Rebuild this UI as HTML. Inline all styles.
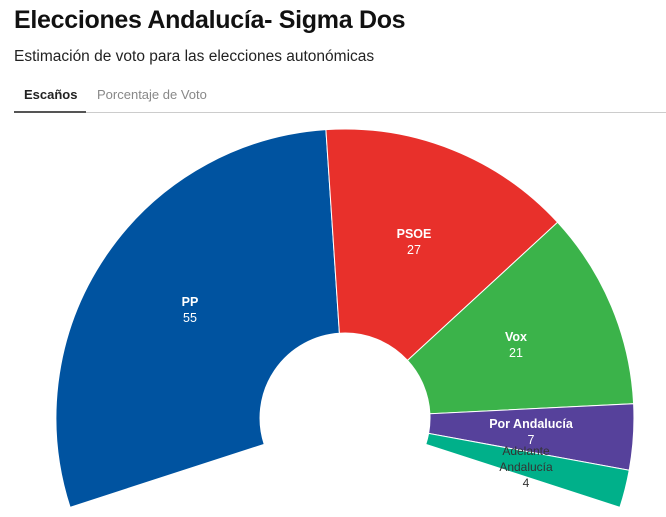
<!DOCTYPE html>
<html><head><meta charset="utf-8">
<style>
body{margin:0;background:#fff;width:666px;height:517px;overflow:hidden;font-family:"Liberation Sans",sans-serif;}
h1{position:absolute;left:14px;top:6px;margin:0;font-size:25px;font-weight:bold;color:#111;letter-spacing:-0.3px}
.sub{position:absolute;left:14px;top:48px;font-size:15.5px;color:#222}
.tab1{position:absolute;left:24px;top:87px;font-size:13px;font-weight:bold;color:#222}
.tab2{position:absolute;left:97px;top:87px;font-size:13px;color:#888}
.line{position:absolute;left:14px;top:112px;width:652px;height:1px;background:#ccc}
.uline{position:absolute;left:14px;top:111px;width:72px;height:2px;background:#555}
svg{position:absolute;left:0;top:0}
</style></head><body>
<h1>Elecciones Andalucía- Sigma Dos</h1>
<div class="sub">Estimación de voto para las elecciones autonómicas</div>
<div class="tab1">Escaños</div><div class="tab2">Porcentaje de Voto</div>
<div class="line"></div><div class="uline"></div>
<svg id="s" width="666" height="517" xmlns="http://www.w3.org/2000/svg"></svg>
<script>
var cx=345,cy=418,R=289,r=85,d=216/114;
var data=[["PP",55,"#0053a0"],["PSOE",27,"#e8302b"],["Vox",21,"#3bb34a"],["Por Andalucía",7,"#56419b"],["Adelante",4,"#00b08a"]];
var a=-108,out="";
function p(rad,ang){var t=ang*Math.PI/180;return (cx+rad*Math.sin(t)).toFixed(1)+","+(cy-rad*Math.cos(t)).toFixed(1);}
data.forEach(function(x){var b=a+x[1]*d;var lg=(b-a)>180?1:0;
out+='<path d="M'+p(R,a)+' A'+R+','+R+' 0 '+lg+' 1 '+p(R,b)+' L'+p(r,b)+' A'+r+','+r+' 0 '+lg+' 0 '+p(r,a)+' Z" fill="'+x[2]+'" stroke="#fff" stroke-width="1"/>';a=b;});
var L=[["PP","55",190,306],["PSOE","27",414,238],["Vox","21",516,341],["Por Andalucía","7",531,428]];
L.forEach(function(l){out+='<text x="'+l[2]+'" y="'+l[3]+'" text-anchor="middle" font-size="12.5" font-weight="bold" fill="#fff">'+l[0]+'</text><text x="'+l[2]+'" y="'+(l[3]+16)+'" text-anchor="middle" font-size="12.5" fill="#fff">'+l[1]+'</text>';});
out+='<text x="526" y="455" text-anchor="middle" font-size="12" fill="#333">Adelante</text><text x="526" y="471" text-anchor="middle" font-size="12" fill="#333">Andalucía</text><text x="526" y="487" text-anchor="middle" font-size="12" fill="#333">4</text>';
document.getElementById("s").innerHTML=out;
</script>
</body></html>
